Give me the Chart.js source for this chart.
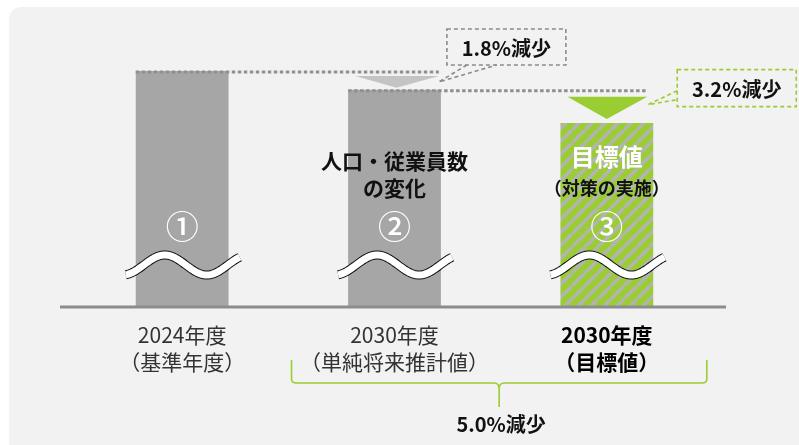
<!DOCTYPE html>
<html>
<head>
<meta charset="utf-8">
<script src="https://cdn.jsdelivr.net/npm/chart.js@4.4.1/dist/chart.umd.min.js"></script>
<style>
html, body { margin: 0; padding: 0; background: #fff; }
canvas { display: block; }
</style>
</head>
<body>
<canvas id="myChart" width="799" height="445"></canvas>
<script>
// data
var categories = [['2024年度', '（基準年度）'], ['2030年度', '（単純将来推計値）'], ['2030年度', '（目標値）']];
var values = [100, 98.2, 95.0];
var barMarks = ['①', '②', '③'];
var reductions = ['1.8%減少', '3.2%減少', '5.0%減少'];
var barNotes = [[], ['人口・従業員数', 'の変化'], ['目標値', '（対策の実施）']];

var JP = '"Noto Sans CJK JP", "Noto Sans", sans-serif';
var GREEN = '#9acd32';
var GRAY_BAR = '#a6a6a6';

// hatched fill for the target bar
function makeHatch() {
    var s = 13;
    var cv = document.createElement('canvas');
    cv.width = s; cv.height = s;
    var g = cv.getContext('2d');
    g.fillStyle = GREEN;
    g.fillRect(0, 0, s, s);
    g.strokeStyle = '#b3b3b3';
    g.lineWidth = 3.6;
    for (var k = -1; k <= 1; k++) {
        g.beginPath();
        g.moveTo(k * s, s);
        g.lineTo(k * s + s, 0);
        g.stroke();
    }
    return g.createPattern(cv, 'repeat');
}

function txt(c, s, x, y, font, color) {
    c.font = font;
    c.fillStyle = color;
    c.textAlign = 'center';
    c.textBaseline = 'middle';
    c.fillText(s, x, y);
}

function wave(c, left, yc) {
    var pts = [];
    for (var i = 0; i <= 114; i += 2) {
        pts.push([left + i, yc - 10 * Math.cos(Math.PI * (i - 39) / 42)]);
    }
    function path() {
        c.beginPath();
        c.moveTo(pts[0][0], pts[0][1]);
        for (var j = 1; j < pts.length; j++) c.lineTo(pts[j][0], pts[j][1]);
    }
    c.lineCap = 'butt';
    c.lineJoin = 'round';
    path(); c.strokeStyle = '#111'; c.lineWidth = 9; c.stroke();
    path(); c.strokeStyle = '#fff'; c.lineWidth = 7; c.stroke();
}

function callout(c, bx, by, bw, bh, tip, l1, l2, color, label) {
    c.save();
    c.setLineDash([4, 3]);
    c.lineWidth = 1.6;
    c.strokeStyle = color;
    c.strokeRect(bx, by, bw, bh);
    c.beginPath();
    c.moveTo(l1[0], l1[1]); c.lineTo(tip[0], tip[1]); c.lineTo(l2[0], l2[1]);
    c.stroke();
    c.restore();
    txt(c, label, bx + bw / 2, by + bh / 2 + 1, 'bold 20px ' + JP, '#111');
}

var deco = {
    id: 'deco',
    beforeDraw: function (chart) {
        var c = chart.ctx;
        c.save();
        c.fillStyle = '#fff';
        c.fillRect(0, 0, chart.width, chart.height);
        c.fillStyle = '#f2f2f2';
        c.beginPath();
        c.roundRect(9, 7, chart.width + 20, chart.height + 20, 12);
        c.fill();
        c.restore();
    },
    afterDatasetsDraw: function (chart) {
        var c = chart.ctx;
        var bars = chart.getDatasetMeta(0).data;
        var base = chart.chartArea.bottom;
        var L = bars.map(function (b) { return b.x - b.width / 2; });
        var R = bars.map(function (b) { return b.x + b.width / 2; });
        var y1 = bars[0].y, y2 = bars[1].y, y3 = bars[2].y;
        c.save();

        // baseline
        c.strokeStyle = '#8c8c8c';
        c.lineWidth = 3;
        c.beginPath();
        c.moveTo(chart.chartArea.left - 16, base);
        c.lineTo(chart.chartArea.right + 13, base);
        c.stroke();

        // triangles
        c.fillStyle = '#c4c4c4';
        c.beginPath();
        c.moveTo(L[1] + 7, y1 + 5); c.lineTo(R[1] - 2, y1 + 5); c.lineTo(bars[1].x + 2, y2 - 2);
        c.closePath(); c.fill();
        c.fillStyle = GREEN;
        c.beginPath();
        c.moveTo(L[2] + 7, y2 + 7); c.lineTo(R[2] - 6, y2 + 7); c.lineTo(bars[2].x, y3 - 4);
        c.closePath(); c.fill();

        // dotted level lines
        c.setLineDash([3.5, 2.5]);
        c.strokeStyle = '#8f8f8f';
        c.lineWidth = 3;
        c.beginPath(); c.moveTo(L[0], y1 + 1); c.lineTo(R[1] - 2, y1 + 1); c.stroke();
        c.beginPath(); c.moveTo(L[1], y2 + 1); c.lineTo(R[2] - 6, y2 + 1); c.stroke();
        c.setLineDash([]);

        // callouts
        var tip1 = [R[1] - 2, y1 + 11];
        callout(c, R[1] + 6, y1 - 42, 119, 36, tip1, [R[1] + 26, y1 - 6], [R[1] + 56, y1 - 6], '#8c8c8c', reductions[0]);
        var tip2 = [R[2] - 5, y2 + 15];
        callout(c, R[2] + 24, y2 - 20, 119, 37, tip2, [R[2] + 24, y2 + 1], [R[2] + 24, y2 + 10], GREEN, reductions[1]);

        // waves and marks
        for (var i = 0; i < bars.length; i++) {
            wave(c, L[i] - 10, base - 42);
            txt(c, barMarks[i], bars[i].x, base - 81, '500 33px ' + JP, '#fff');
        }
        txt(c, barNotes[1][0], bars[1].x, base - 146, 'bold 21px ' + JP, '#111');
        txt(c, barNotes[1][1], bars[1].x, base - 119, 'bold 21px ' + JP, '#111');
        txt(c, barNotes[2][0], bars[2].x, base - 150, 'bold 24px ' + JP, '#fff');
        txt(c, barNotes[2][1], bars[2].x, base - 119, 'bold 18px ' + JP, '#111');

        // bracket under the 2030 columns
        var a = bars[1].x - 103, b = bars[2].x + 100, m = (a + b) / 2;
        var top = base + 53, bot = base + 76, tip = base + 100;
        c.strokeStyle = GREEN;
        c.lineWidth = 1.6;
        c.beginPath();
        c.moveTo(a, top);
        c.lineTo(a, bot - 4);
        c.quadraticCurveTo(a, bot, a + 5, bot);
        c.lineTo(m - 5, bot);
        c.quadraticCurveTo(m, bot, m, bot + 6);
        c.lineTo(m, tip);
        c.moveTo(m, bot + 6);
        c.quadraticCurveTo(m, bot, m + 5, bot);
        c.lineTo(b - 5, bot);
        c.quadraticCurveTo(b, bot, b, bot - 4);
        c.lineTo(b, top);
        c.stroke();
        txt(c, reductions[2], m + 2, base + 117, 'bold 20px ' + JP, '#111');

        c.restore();
    }
};

var ctx = document.getElementById('myChart').getContext('2d');
var myChart = new Chart(ctx, {
    type: 'bar',
    data: {
        labels: categories,
        datasets: [{
            data: values,
            backgroundColor: [GRAY_BAR, GRAY_BAR, makeHatch()],
            borderWidth: 0,
            barPercentage: 0.437,
            categoryPercentage: 1
        }]
    },
    options: {
        responsive: false,
        animation: false,
        devicePixelRatio: 1,
        layout: { padding: { left: 76, right: 86, top: 7, bottom: 0 } },
        plugins: {
            legend: { display: false },
            tooltip: { enabled: false }
        },
        scales: {
            x: {
                grid: { display: false },
                border: { display: false },
                afterFit: function (scale) { scale.height = 138; },
                ticks: {
                    autoSkip: false,
                    maxRotation: 0,
                    padding: 6,
                    color: function (c) { return c.index === 2 ? '#000' : '#333'; },
                    font: function (c) {
                        return { family: JP, size: 21, lineHeight: 1.3, weight: c.index === 2 ? 'bold' : 'normal' };
                    }
                }
            },
            y: {
                display: false,
                min: 77.3,
                max: 106.15
            }
        }
    },
    plugins: [deco]
});
</script>
</body>
</html>
